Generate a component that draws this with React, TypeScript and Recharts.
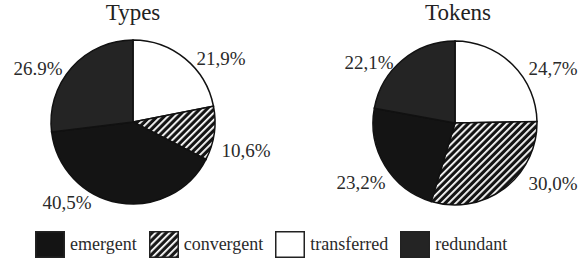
import { Cell, Legend, Pie, PieChart } from "recharts";

const categories = ["transferred", "convergent", "emergent", "redundant"];
const typesShare = [21.9, 10.6, 40.5, 26.9];
const tokensShare = [24.7, 30.0, 23.2, 22.1];
const typesLabels = ["21,9%", "10,6%", "40,5%", "26.9%"];
const tokensLabels = ["24,7%", "30,0%", "23,2%", "22,1%"];
const legendOrder = ["emergent", "convergent", "transferred", "redundant"];

const fills: Record<string, string> = {
  transferred: "#ffffff",
  convergent: "url(#hatch)",
  emergent: "#141414",
  redundant: "#242424",
};

// where each percentage sits, relative to the pie centre
const typesLabelOffsets = [
  [88, -64],
  [113, 28],
  [-66, 80],
  [-95, -54],
];
const tokensLabelOffsets = [
  [98, -55],
  [98, 60],
  [-94, 59],
  [-86, -61],
];

const typesData = categories.map((name, i) => ({
  name,
  value: typesShare[i],
  label: typesLabels[i],
}));
const tokensData = categories.map((name, i) => ({
  name,
  value: tokensShare[i],
  label: tokensLabels[i],
}));

const font = "'Liberation Serif', 'Times New Roman', serif";

function makeLabel(offsets: number[][]) {
  return (props: any) => {
    const { cx, cy, index, payload } = props;
    const [dx, dy] = offsets[index];
    return (
      <text
        x={cx + dx}
        y={cy + dy}
        textAnchor="middle"
        dominantBaseline="central"
        fill="#2a2a2a"
        fontFamily={font}
        fontSize={19}
      >
        {payload.label}
      </text>
    );
  };
}

function LegendContent() {
  return (
    <div style={{ display: "flex", alignItems: "center", fontFamily: font, fontSize: 18, color: "#2a2a2a" }}>
      {legendOrder.map((name) => (
        <div key={name} style={{ display: "flex", alignItems: "center", marginRight: 12 }}>
          <svg width={30} height={27} style={{ marginRight: 5 }}>
            <defs>
              <pattern id={`lg-${name}`} patternUnits="userSpaceOnUse" width={5} height={5} patternTransform="rotate(45)">
                <rect width={5} height={5} fill="#1a1a1a" />
                <rect width={1.8} height={5} fill="#fff" />
              </pattern>
            </defs>
            <rect
              x={0.75}
              y={0.75}
              width={28.5}
              height={25.5}
              fill={name === "convergent" ? `url(#lg-${name})` : fills[name]}
              stroke="#222"
              strokeWidth={1.5}
            />
          </svg>
          <span>{name}</span>
        </div>
      ))}
    </div>
  );
}

export default function App() {
  return (
    <div style={{ position: "absolute", left: 0, top: 0, width: 581, height: 264, background: "#fff" }}>
      <div style={{ position: "absolute", left: 83, top: 0, width: 100, textAlign: "center", fontFamily: font, fontSize: 23, color: "#222" }}>
        Types
      </div>
      <div style={{ position: "absolute", left: 408, top: 0, width: 100, textAlign: "center", fontFamily: font, fontSize: 23, color: "#222" }}>
        Tokens
      </div>
      <PieChart width={581} height={264} margin={{ top: 0, right: 0, bottom: 0, left: 0 }}>
        <defs>
          <pattern id="hatch" patternUnits="userSpaceOnUse" width={5} height={5} patternTransform="rotate(45)">
            <rect width={5} height={5} fill="#141414" />
            <rect width={1.8} height={5} fill="#fff" />
          </pattern>
        </defs>
        <Pie
          data={typesData}
          dataKey="value"
          cx={133}
          cy={122}
          outerRadius={82}
          startAngle={90}
          endAngle={-270}
          stroke="#111"
          strokeWidth={1.5}
          labelLine={false}
          label={makeLabel(typesLabelOffsets)}
          isAnimationActive={false}
        >
          {typesData.map((d) => (
            <Cell key={d.name} fill={fills[d.name]} />
          ))}
        </Pie>
        <Pie
          data={tokensData}
          dataKey="value"
          cx={455}
          cy={123}
          outerRadius={82}
          startAngle={90}
          endAngle={-270}
          stroke="#111"
          strokeWidth={1.5}
          labelLine={false}
          label={makeLabel(tokensLabelOffsets)}
          isAnimationActive={false}
        >
          {tokensData.map((d) => (
            <Cell key={d.name} fill={fills[d.name]} />
          ))}
        </Pie>
        <Legend
          content={<LegendContent />}
          wrapperStyle={{ left: 35, top: 231, width: 546, bottom: "auto" }}
        />
      </PieChart>
    </div>
  );
}
